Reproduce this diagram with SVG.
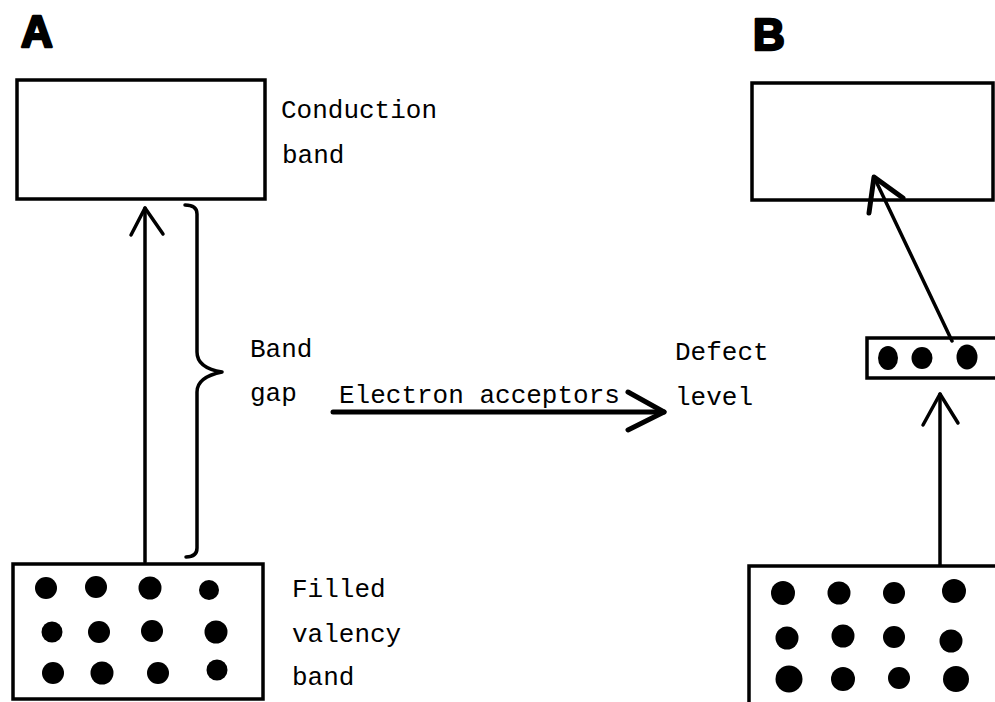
<svg xmlns="http://www.w3.org/2000/svg" width="995" height="702" viewBox="0 0 995 702">
<style>
.box{fill:#fff;stroke:#000;stroke-width:3.5}
.ln{fill:none;stroke:#000;stroke-width:3.5;stroke-linecap:round;stroke-linejoin:round}
.thick{fill:none;stroke:#000;stroke-width:5;stroke-linecap:round;stroke-linejoin:round}
.t{font-family:"Liberation Mono","Courier New",monospace;font-size:26px;fill:#000}
.h{font-family:"Liberation Sans",Arial,sans-serif;font-size:44px;font-weight:900;fill:#000;stroke:#000;stroke-width:2.5;stroke-linejoin:round}
.dot{fill:#000}
</style>
<rect width="995" height="702" fill="#fff"/>
<g id="label-A"><text class="h" x="21" y="47">A</text></g>
<g id="label-B"><text class="h" x="753" y="50">B</text></g>

<g id="conduction-A">
<rect class="box" x="17" y="80" width="248" height="119"/>
<text class="t" x="281" y="118">Conduction</text>
<text class="t" x="282" y="163">band</text>
</g>

<g id="valency-A">
<rect class="box" x="13" y="564" width="250" height="135"/>
<g class="dot">
<circle cx="46" cy="588" r="11"/><circle cx="96" cy="587" r="11"/><circle cx="150" cy="588" r="11.5"/><circle cx="209" cy="590" r="10"/>
<circle cx="52" cy="632" r="10.5"/><circle cx="99" cy="632" r="11"/><circle cx="152" cy="631" r="11"/><circle cx="216" cy="632" r="11.5"/>
<circle cx="53" cy="673" r="11"/><circle cx="102" cy="673" r="11.5"/><circle cx="158" cy="673" r="11"/><circle cx="217" cy="670" r="10.5"/>
</g>
<text class="t" x="292" y="597">Filled</text>
<text class="t" x="292" y="642">valency</text>
<text class="t" x="292" y="685">band</text>
</g>

<g id="bandgap">
<path class="ln" d="M185,205 Q197,205 197,214 L197,352 Q197,368 222,372 Q197,377 197,392 L197,548 Q197,557 186,557"/>
<text class="t" x="250" y="357">Band</text>
<text class="t" x="250" y="401">gap</text>
</g>

<g id="transition">
<text class="t" x="339" y="403">Electron acceptors</text>
</g>

<g id="defect-label">
<text class="t" x="675" y="360">Defect</text>
<text class="t" x="675" y="405">level</text>
</g>

<g id="conduction-B">
<rect class="box" x="752" y="83" width="241" height="117"/>
</g>

<g id="defect-B">
<rect class="box" x="867" y="338" width="140" height="40"/>
<g class="dot">
<ellipse cx="888" cy="358" rx="10" ry="12"/><ellipse cx="922" cy="358" rx="10.5" ry="11"/><ellipse cx="967" cy="357" rx="10.5" ry="12.5"/>
</g>
</g>

<g id="valency-B">
<rect class="box" x="749" y="566" width="260" height="150"/>
<g class="dot">
<circle cx="783" cy="593" r="12"/><circle cx="839" cy="593" r="11.5"/><circle cx="894" cy="593" r="11"/><circle cx="954" cy="591" r="12"/>
<circle cx="787" cy="638" r="11.5"/><circle cx="843" cy="636" r="11.5"/><circle cx="894" cy="637" r="11"/><circle cx="951" cy="641" r="11.5"/>
<circle cx="789" cy="679" r="13.5"/><circle cx="843" cy="679" r="12"/><circle cx="899" cy="678" r="11"/><circle cx="956" cy="679" r="13"/>
</g>
</g>

<g id="connectors">
<path class="ln" d="M145,562 L145,208"/>
<path class="ln" d="M131,235 L145,208 L163,234"/>
<path class="thick" d="M333,412 L664,412"/>
<path class="thick" d="M628,392 L664,412 L628,430"/>
<path class="ln" d="M952,341 L874,177"/>
<path class="thick" d="M869,213 L874,177 L903,198"/>
<path class="ln" d="M940,565 L940,394"/>
<path class="ln" d="M923,425 L940,394 L958,423"/>
</g>
</svg>
